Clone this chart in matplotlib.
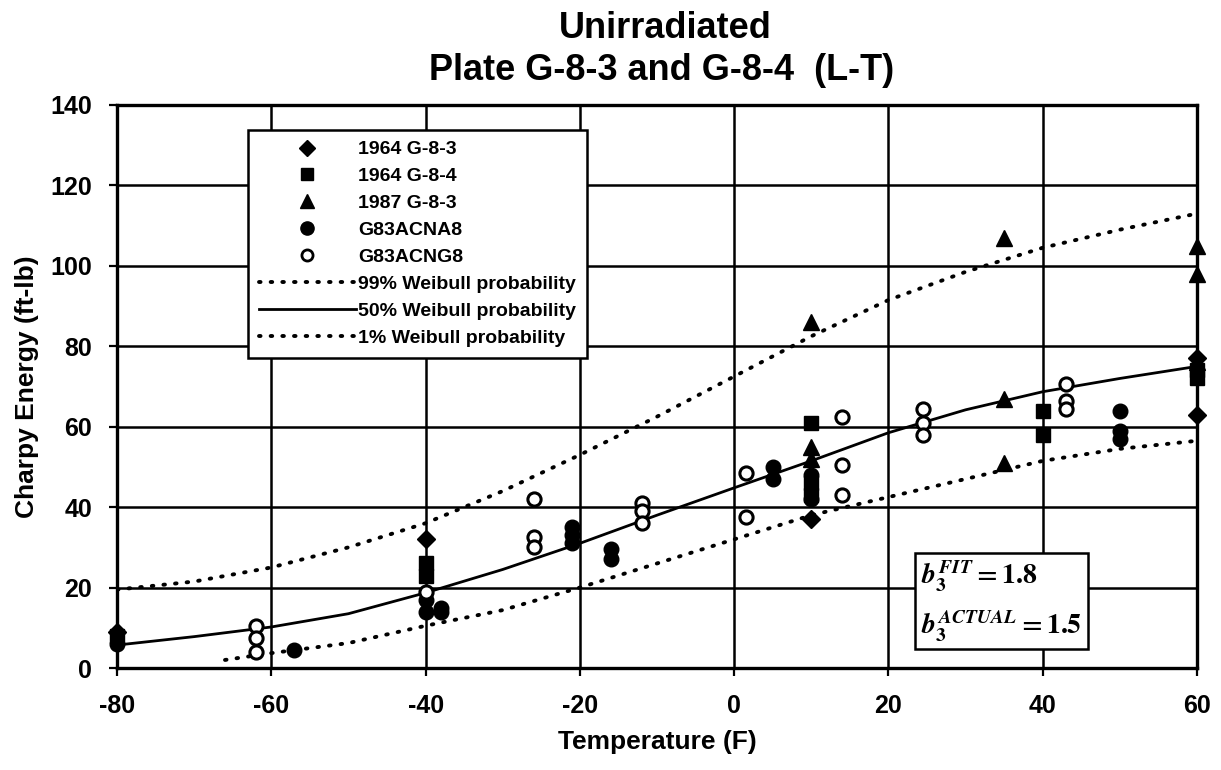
import matplotlib
matplotlib.use("Agg")
import matplotlib.pyplot as plt
from matplotlib.lines import Line2D

# ---------------- data ----------------
diamond_x = [-80, -40, 10, 60, 60]
diamond_y = [9, 32, 37, 77, 63]

square_x = [-80, -40, -40, 10, 10, 10, 40, 40, 60, 60]
square_y = [8, 26, 23, 61, 46, 43, 64, 58, 74, 72]

triangle_x = [10, 10, 10, 35, 35, 35, 60, 60, 60]
triangle_y = [86, 55, 52, 107, 67, 51, 105, 98, 76]

filled_x = [-80, -57, -40, -40, -38, -38, -21, -21, -21, -16, -16, 5, 5, 10, 10, 50, 50, 50]
filled_y = [6, 4.5, 17, 14, 15, 14, 35, 33, 31, 29.5, 27, 50, 47, 48, 42, 64, 59, 57]

open_x = [-62, -62, -62, -40, -26, -26, -26, -12, -12, -12, 1.5, 1.5,
          14, 14, 14, 24.5, 24.5, 24.5, 43, 43, 43]
open_y = [10.5, 7.5, 4, 19, 42, 32.5, 30, 41, 39, 36, 48.5, 37.5,
          62.5, 50.5, 43, 64.5, 61, 58, 70.5, 66.5, 64.5]

curve_t = [-80, -70, -60, -50, -40, -30, -20, -10, 0, 10, 20, 30, 40, 50, 60]
w99 = [19.5, 21.5, 25, 30, 36, 44, 53, 62.5, 72.5, 82.5, 91.5, 98.5, 104.5, 109, 113]
w50 = [5.7, 7.8, 10.2, 13.5, 18.7, 24.5, 31, 38, 44.8, 51.5, 58.5, 64.2, 68.7, 72, 75]
w01_t = [-66, -60, -50, -40, -30, -20, -10, 0, 10, 20, 30, 40, 50, 60]
w01 = [2, 3.7, 6.2, 10.5, 14.4, 20, 26, 32, 38, 42.5, 47, 51.5, 54.5, 56.5]

x_ticks = [-80, -60, -40, -20, 0, 20, 40, 60]
y_ticks = [0, 20, 40, 60, 80, 100, 120, 140]

# ---------------- style ----------------
plt.rcParams['font.family'] = ['Liberation Sans', 'DejaVu Sans']
plt.rcParams['font.weight'] = 'bold'
plt.rcParams['mathtext.fontset'] = 'stix'

fig = plt.figure(figsize=(12.21, 7.70), dpi=100)
ax = fig.add_axes([117/1221, 1-668/770, 1080/1221, 563/770])

dot = (0, (0.4, 2.6))
ax.plot(curve_t, w99, color='black', lw=2.8, ls=dot, dash_capstyle='round', zorder=3)
ax.plot(curve_t, w50, color='black', lw=2.0, ls='-', zorder=3)
ax.plot(w01_t, w01, color='black', lw=2.8, ls=dot, dash_capstyle='round', zorder=3)

ax.plot(diamond_x, diamond_y, 'D', color='black', ms=9.5, ls='none', zorder=4, clip_on=False)
ax.plot(square_x, square_y, 's', color='black', ms=10, ls='none', zorder=4, clip_on=False)
ax.plot(triangle_x, triangle_y, '^', color='black', ms=11, ls='none', zorder=4, clip_on=False)
ax.plot(filled_x, filled_y, 'o', color='black', ms=10.5, ls='none', zorder=4, clip_on=False)
ax.plot(open_x, open_y, 'o', mfc='white', mec='black', mew=2.2, ms=9.5, ls='none',
        zorder=5, clip_on=False)

ax.set_xlim(-80, 60)
ax.set_ylim(0, 140)
ax.set_xticks(x_ticks)
ax.set_yticks(y_ticks)
ax.set_xticklabels([str(v) for v in x_ticks])
ax.set_yticklabels([str(v) for v in y_ticks])
ax.grid(True, color='black', lw=1.8, zorder=1)
ax.set_axisbelow(True)
for s in ax.spines.values():
    s.set_linewidth(2.4)
ax.tick_params(axis='both', direction='out', length=6, width=1.6, labelsize=18)
ax.tick_params(axis='x', pad=13)
ax.tick_params(axis='y', pad=12)
for lab in ax.get_xticklabels() + ax.get_yticklabels():
    lab.set_fontweight('bold')

ax.set_xlabel('Temperature (F)', fontsize=19, fontweight='bold', labelpad=8)
ax.set_ylabel('Charpy Energy (ft-lb)', fontsize=19, fontweight='bold', labelpad=8)

fig.text(665/1221, 1-29/770, 'Unirradiated', ha='center', va='center',
         fontsize=26, fontweight='bold')
fig.text(662/1221, 1-71/770, 'Plate G-8-3 and G-8-4  (L-T)', ha='center', va='center',
         fontsize=26, fontweight='bold')

handles = [
    Line2D([], [], marker='D', color='black', ls='none', ms=8),
    Line2D([], [], marker='s', color='black', ls='none', ms=8.5),
    Line2D([], [], marker='^', color='black', ls='none', ms=9.5),
    Line2D([], [], marker='o', color='black', ls='none', ms=9.5),
    Line2D([], [], marker='o', mfc='white', mec='black', mew=2, ls='none', ms=8),
    Line2D([], [], color='black', lw=2.8, ls=dot, dash_capstyle='round'),
    Line2D([], [], color='black', lw=2.0, ls='-'),
    Line2D([], [], color='black', lw=2.8, ls=dot, dash_capstyle='round'),
]
labels = ['1964 G-8-3', '1964 G-8-4', '1987 G-8-3', 'G83ACNA8', 'G83ACNG8',
          '99% Weibull probability', '50% Weibull probability', '1% Weibull probability']
leg = ax.legend(handles, labels, loc='upper left',
                bbox_to_anchor=((248-117)/1080, (668-130)/563),
                borderaxespad=0, fancybox=False, framealpha=1, edgecolor='black',
                handlelength=5.0, handletextpad=0.1, labelspacing=0.48,
                borderpad=0.55, prop={'weight': 'bold', 'size': 14})
leg.get_frame().set_linewidth(1.8)
leg.set_zorder(6)

ax.text((921-117)/1080, (668-601)/563,
        r'$b_3^{FIT}=1.8$' + '\n' + r'$b_3^{ACTUAL}=1.5$',
        transform=ax.transAxes, fontsize=20, ha='left', va='center',
        linespacing=1.55,
        bbox=dict(boxstyle='square,pad=0.2', fc='white', ec='black', lw=1.8),
        zorder=7)

fig.savefig('out.png', dpi=100)
